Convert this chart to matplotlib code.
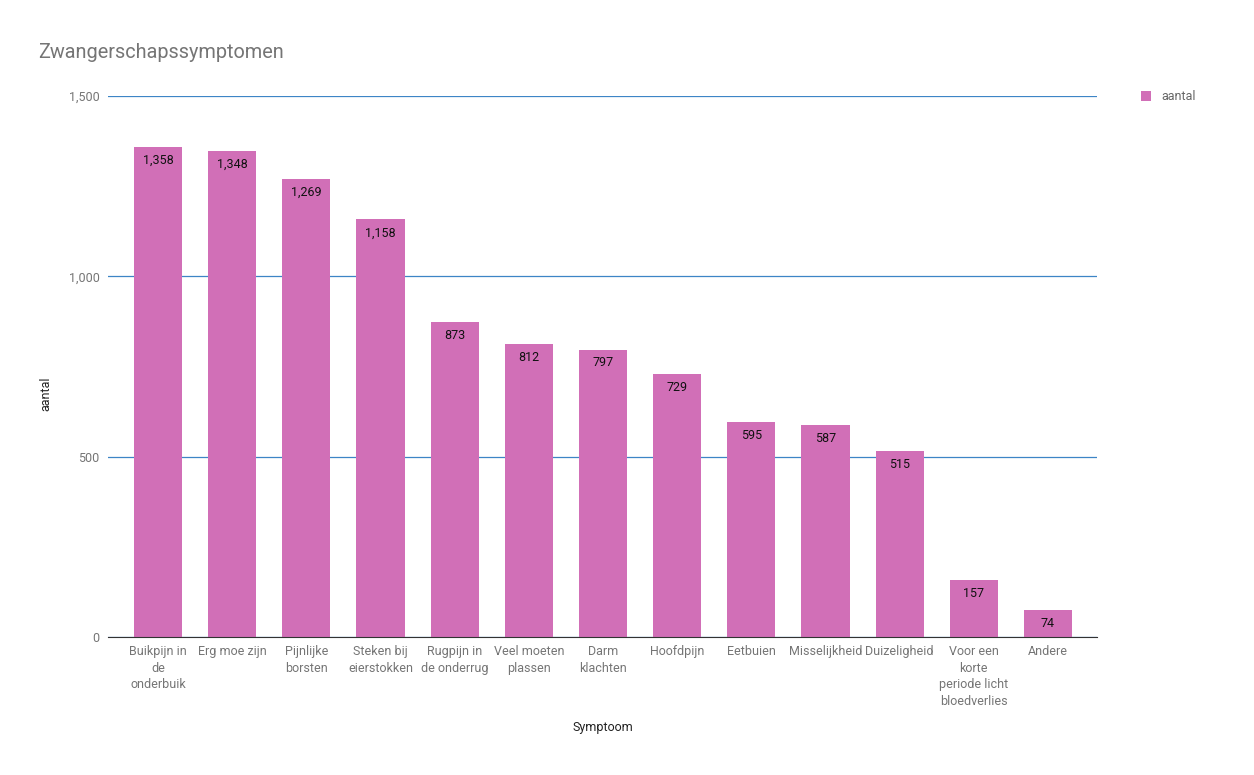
import matplotlib
matplotlib.use('Agg')
import matplotlib.pyplot as plt
from matplotlib.ticker import FuncFormatter

plt.rcParams['font.family'] = ['Roboto', 'DejaVu Sans']

# Data
CATEGORIES = [
    'Buikpijn in\nde\nonderbuik', 'Erg moe zijn', 'Pijnlijke\nborsten',
    'Steken bij\neierstokken', 'Rugpijn in\nde onderrug', 'Veel moeten\nplassen',
    'Darm\nklachten', 'Hoofdpijn', 'Eetbuien', 'Misselijkheid', 'Duizeligheid',
    'Voor een\nkorte\nperiode licht\nbloedverlies', 'Andere',
]
AANTAL = [1358, 1348, 1269, 1158, 873, 812, 797, 729, 595, 587, 515, 157, 74]
Y_TICKS = [0, 500, 1000, 1500]

BAR_COLOR = '#d16fb7'
GRID_COLOR = '#3d85c6'
TEXT_GRAY = '#757575'

fig = plt.figure(figsize=(12.54, 7.75), dpi=100)
ax = fig.add_axes([108 / 1254, 1 - 637 / 775, 989 / 1254, 541 / 775])

x = list(range(len(CATEGORIES)))
ax.bar(x, AANTAL, width=0.65, color=BAR_COLOR, label='aantal', zorder=3)

for xi, v in zip(x, AANTAL):
    ax.annotate(f'{v:,}', (xi, v), xytext=(0, -5), textcoords='offset points',
                ha='center', va='top', fontsize=9, color='#111111', zorder=4)

ax.set_xlim(-0.674, 12.661)
ax.set_ylim(0, 1500)
ax.set_yticks(Y_TICKS)
ax.yaxis.set_major_formatter(FuncFormatter(lambda v, p: f'{int(v):,}'))
ax.set_xticks(x)
ax.set_xticklabels(CATEGORIES, fontsize=9, color=TEXT_GRAY, linespacing=1.35)
ax.tick_params(axis='y', labelsize=9, labelcolor=TEXT_GRAY, length=0, pad=6)
ax.tick_params(axis='x', length=0, pad=6)

ax.grid(axis='y', color=GRID_COLOR, linewidth=0.9, zorder=0)
for s in ['top', 'right', 'left']:
    ax.spines[s].set_visible(False)
ax.spines['bottom'].set_color('#333333')
ax.spines['bottom'].set_zorder(5)

fig.text(46 / 1254, 1 - 394 / 775, 'aantal', fontsize=9, color='#222222',
         rotation=90, ha='center', va='center')
fig.text(603 / 1254, 1 - 728 / 775, 'Symptoom', fontsize=9, color='#222222',
         ha='center', va='center')

fig.text(38 / 1254, 1 - 53 / 775, 'Zwangerschapssymptomen', fontsize=14.3,
         color=TEXT_GRAY, ha='left', va='center')

ax.legend(loc='upper left', bbox_to_anchor=(1.033, 1.031), frameon=False,
          fontsize=9, handlelength=0.8, handleheight=0.8, handletextpad=0.8,
          labelcolor='#666666')

fig.savefig('out.png', dpi=100)
